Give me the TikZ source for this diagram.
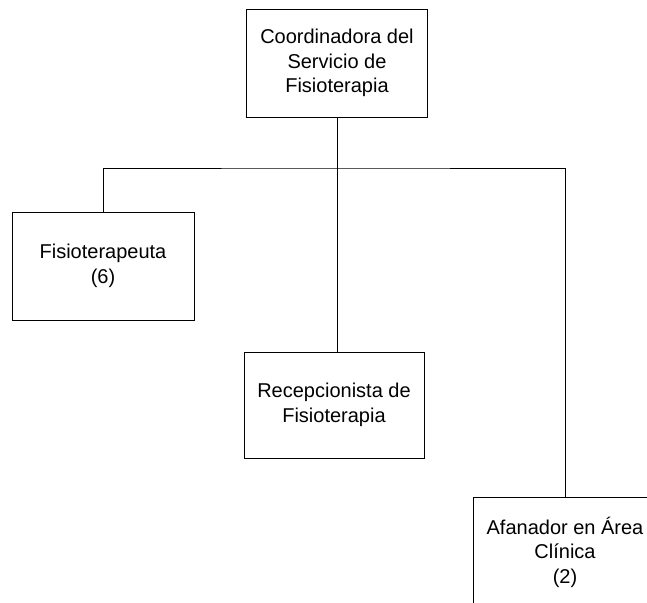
\documentclass[tikz,border=0pt]{standalone}
\usepackage{fontspec}
\setmainfont{Liberation Sans}
\usepackage{tikz}

\tikzset{
  puesto/.style={draw, line width=0.8pt, align=center, inner sep=2pt,
    font=\fontsize{20}{24.5}\selectfont},
  enlace/.style={line width=0.8pt}
}

\begin{document}
\begin{tikzpicture}[x=1pt, y=-1pt]
  % page of 647 x 602
  \clip (0,0) rectangle (647,602);
  \useasboundingbox (0,0) rectangle (647,602);
  % boxes
  \node[puesto, minimum width=181pt, minimum height=108pt] (coord) at (337,63)
        {Coordinadora del\\Servicio de\\Fisioterapia};
  \node[puesto, minimum width=182pt, minimum height=108pt] (fisio) at (103,266)
        {Fisioterapeuta\\(6)};
  \node[puesto, minimum width=180pt, minimum height=106pt] (recep) at (334,405)
        {Recepcionista de\\Fisioterapia};
  \node[puesto, minimum width=184pt, minimum height=110pt] (afan) at (565,552)
        {Afanador en Área\\Clínica\\(2)};
  % bus line
  \coordinate (bus) at (337,168);
  \draw[enlace] (coord.south) -- (coord.south |- recep.north);
  \draw[enlace] (fisio.north) |- (bus) -| (afan.north);
\end{tikzpicture}
\end{document}
